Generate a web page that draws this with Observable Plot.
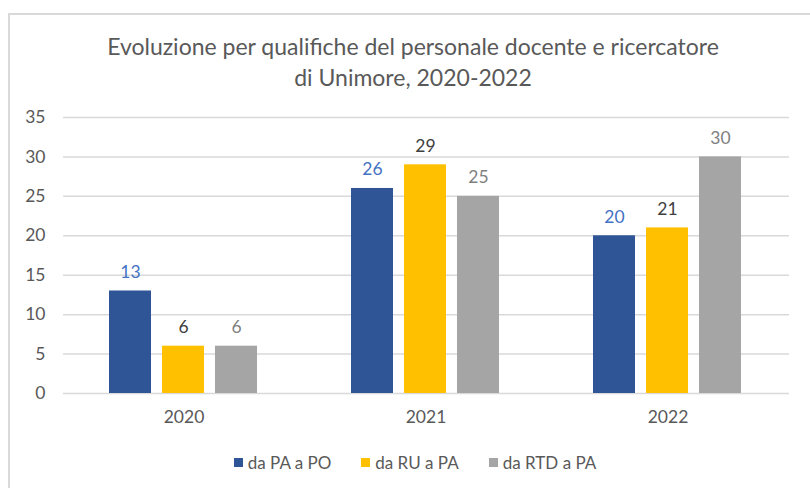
<!DOCTYPE html>
<html>
<head>
<meta charset="utf-8">
<script src="https://cdn.jsdelivr.net/npm/d3@7"></script>
<script src="https://cdn.jsdelivr.net/npm/@observablehq/plot@0.6"></script>
<style>
  html, body { margin: 0; padding: 0; background: #fff; }
  #wrap { position: relative; width: 810px; height: 488px; overflow: hidden; font-family: Lato, "Noto Sans", sans-serif; }
  #frame { position: absolute; left: 8px; top: 13px; width: 820px; height: 500px; border: 2px solid #d9d9d9; box-sizing: border-box; }
  #title { position: absolute; left: 0; width: 826px; top: 31px; text-align: center; font-size: 23px; line-height: 31px; color: #595959; font-weight: 400; }
  .layer { position: absolute; left: 0; top: 0; }
  #legend { position: absolute; top: 452px; left: 0; width: 830px; display: flex; justify-content: center; gap: 30px; font-size: 17px; color: #595959; }
  #legend span.item { display: inline-flex; align-items: center; }
  #legend i { display: inline-block; width: 9px; height: 9px; margin-right: 5px; }
</style>
</head>
<body>
<div id="wrap">
  <div id="frame"></div>
  <div id="title">Evoluzione per qualifiche del personale docente e ricercatore<br>di Unimore, 2020-2022</div>
  <div id="under" class="layer"></div>
  <div id="over" class="layer"></div>
  <div id="legend"></div>
</div>
<script>
const years = ["2020", "2021", "2022"];
const series = ["da PA a PO", "da RU a PA", "da RTD a PA"];
const paPo = [13, 26, 20];
const ruPa = [6, 29, 21];
const rtdPa = [6, 25, 30];
const barColors = ["#2f5597", "#ffc000", "#a5a5a5"];
const labelColors = ["#4472c4", "#404040", "#7f7f7f"];
const yTicks = [0, 5, 10, 15, 20, 25, 30, 35];

const valuesBySeries = [paPo, ruPa, rtdPa];
const data = [];
years.forEach((yr, i) => series.forEach((s, j) => data.push({year: yr, series: s, value: valuesBySeries[j][i]})));

const W = 810, H = 440;
const M = {top: 117, bottom: 47, left: 63, right: 21};
const font = "Lato, 'Noto Sans', sans-serif";

const under = Plot.plot({
  width: W, height: H,
  marginTop: M.top, marginBottom: M.bottom, marginLeft: M.left, marginRight: M.right,
  style: {background: "transparent", fontFamily: font, fontSize: "17.5px", color: "#595959"},
  x: {axis: null},
  y: {domain: [0, 35], ticks: yTicks, tickSize: 0, tickPadding: 18, label: null},
  marks: [
    Plot.ruleY(yTicks, {stroke: "#d9d9d9", strokeWidth: 1.5})
  ]
});
document.getElementById("under").appendChild(under);

const marks = [
  Plot.barY(data, {fx: "year", x: "series", y: "value", fill: "series"})
];
series.forEach((s, j) => {
  marks.push(Plot.text(data.filter(d => d.series === s), {
    fx: "year", x: "series", y: "value", text: d => String(d.value),
    lineAnchor: "bottom", dy: -13, fill: labelColors[j], fontSize: 17.5
  }));
});

const over = Plot.plot({
  width: W, height: H,
  marginTop: M.top, marginBottom: M.bottom, marginLeft: M.left, marginRight: M.right,
  style: {background: "transparent", fontFamily: font, fontSize: "17.5px", color: "#595959"},
  fx: {domain: years, paddingInner: 0.384, paddingOuter: 0.192, axis: "bottom", tickSize: 0, tickPadding: 17, label: null},
  x: {domain: series, paddingInner: 0.2, paddingOuter: 0, axis: null},
  y: {domain: [0, 35], axis: null},
  color: {domain: series, range: barColors},
  marks
});
document.getElementById("over").appendChild(over);

const legend = document.getElementById("legend");
series.forEach((s, j) => {
  const item = document.createElement("span");
  item.className = "item";
  const sw = document.createElement("i");
  sw.style.background = barColors[j];
  item.appendChild(sw);
  item.appendChild(document.createTextNode(s));
  legend.appendChild(item);
});
</script>
</body>
</html>
